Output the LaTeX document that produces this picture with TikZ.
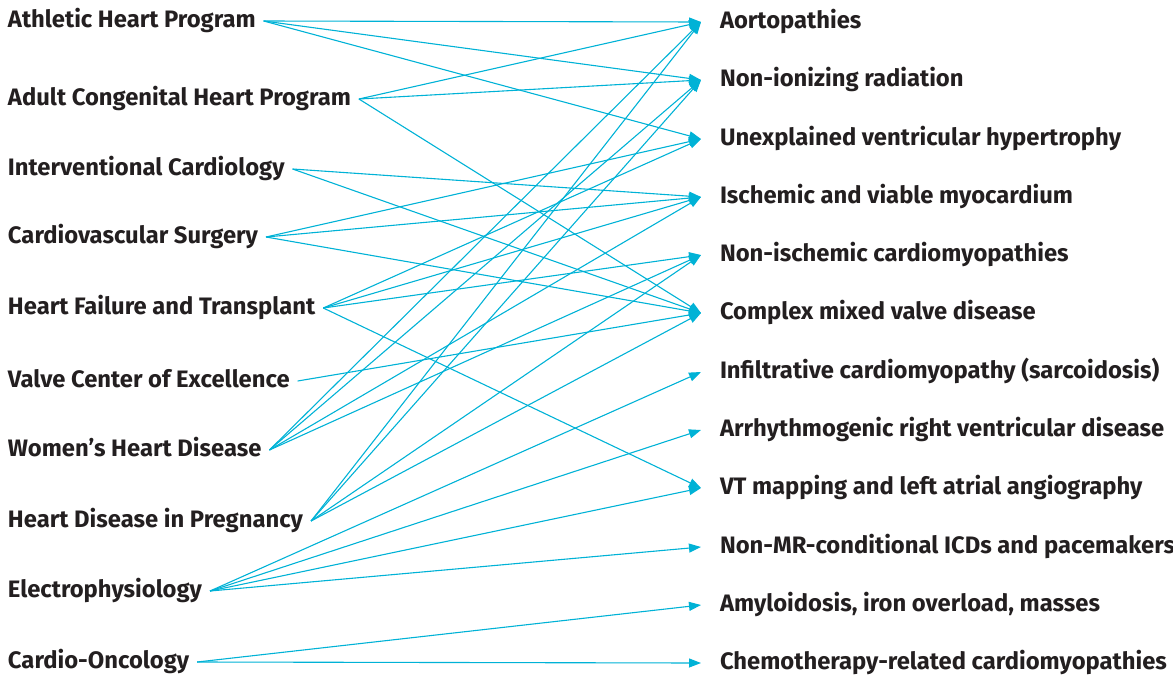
\documentclass[tikz,border=0pt]{standalone}
\usepackage{fontspec}
\setmainfont{Fira Sans}
\usepackage{xcolor}
\usepackage{tikz}
\usetikzlibrary{arrows.meta}
\definecolor{linkblue}{RGB}{0,178,214}
\definecolor{labelgray}{RGB}{35,31,32}

\begin{document}
\begin{tikzpicture}[x=1pt,y=-1pt,
	prog/.style={anchor=west,inner sep=0pt,outer xsep=8pt,text height=12.5pt,text depth=0pt,
		font=\fontsize{23.8}{28}\selectfont\bfseries,text=labelgray},
	topic/.style={prog,outer xsep=19pt},
	link/.style={color=linkblue,line width=1.1pt,-{Triangle[length=12pt,width=9pt]}}]
	\useasboundingbox (0,0) rectangle (1173,675);
	%
	\node[prog] (athl) at (0,21) {Athletic Heart Program};
	\node[prog] (achd) at (0,99) {Adult Congenital Heart Program};
	\node[prog] (intv) at (0,169) {Interventional Cardiology};
	\node[prog] (surg) at (0,237) {Cardiovascular Surgery};
	\node[prog] (hftx) at (0,308) {Heart Failure and Transplant};
	\node[prog] (valv) at (0,381) {Valve Center of Excellence};
	\node[prog] (womn) at (0,450) {Women’s Heart Disease};
	\node[prog] (preg) at (0,521) {Heart Disease in Pregnancy};
	\node[prog] (ephy) at (0,591) {Electrophysiology};
	\node[prog] (onco) at (0,662) {Cardio-Oncology};
	%
	\node[topic] (aort) at (701,22) {Aortopathies};
	\node[topic] (nonion) at (701,80) {Non-ionizing radiation};
	\node[topic] (hyper) at (701,139) {Unexplained ventricular hypertrophy};
	\node[topic] (isch) at (701,197) {Ischemic and viable myocardium};
	\node[topic] (nisch) at (701,255) {Non-ischemic cardiomyopathies};
	\node[topic] (valve) at (701,313) {Complex mixed valve disease};
	\node[topic] (infil) at (701,372) {Infiltrative cardiomyopathy (sarcoidosis)};
	\node[topic] (arvd) at (701,430) {Arrhythmogenic right ventricular disease};
	\node[topic] (vtmap) at (701,488) {VT mapping and left atrial angiography};
	\node[topic] (nonmr) at (701,547) {Non-MR-conditional ICDs and pacemakers};
	\node[topic] (amyl) at (701,605) {Amyloidosis, iron overload, masses};
	\node[topic] (chemo) at (701,663) {Chemotherapy-related cardiomyopathies};
	%
	\path[link]
		(athl.east) edge (aort.west)
		(athl.east) edge (nonion.west)
		(athl.east) edge (hyper.west)
		(achd.east) edge (aort.west)
		(achd.east) edge (nonion.west)
		(achd.east) edge (valve.west)
		(intv.east) edge (isch.west)
		(intv.east) edge (valve.west)
		(surg.east) edge (hyper.west)
		(surg.east) edge (isch.west)
		(surg.east) edge (valve.west)
		(hftx.east) edge (hyper.west)
		(hftx.east) edge (isch.west)
		(hftx.east) edge (nisch.west)
		(hftx.east) edge (vtmap.west)
		(valv.east) edge (valve.west)
		(womn.east) edge (aort.west)
		(womn.east) edge (nonion.west)
		(womn.east) edge (isch.west)
		(womn.east) edge (nisch.west)
		(preg.east) edge (aort.west)
		(preg.east) edge (nonion.west)
		(preg.east) edge (nisch.west)
		(preg.east) edge (valve.west)
		(ephy.east) edge (infil.west)
		(ephy.east) edge (arvd.west)
		(ephy.east) edge (vtmap.west)
		(ephy.east) edge (nonmr.west)
		(onco.east) edge (amyl.west)
		(onco.east) edge (chemo.west);
\end{tikzpicture}
\end{document}
